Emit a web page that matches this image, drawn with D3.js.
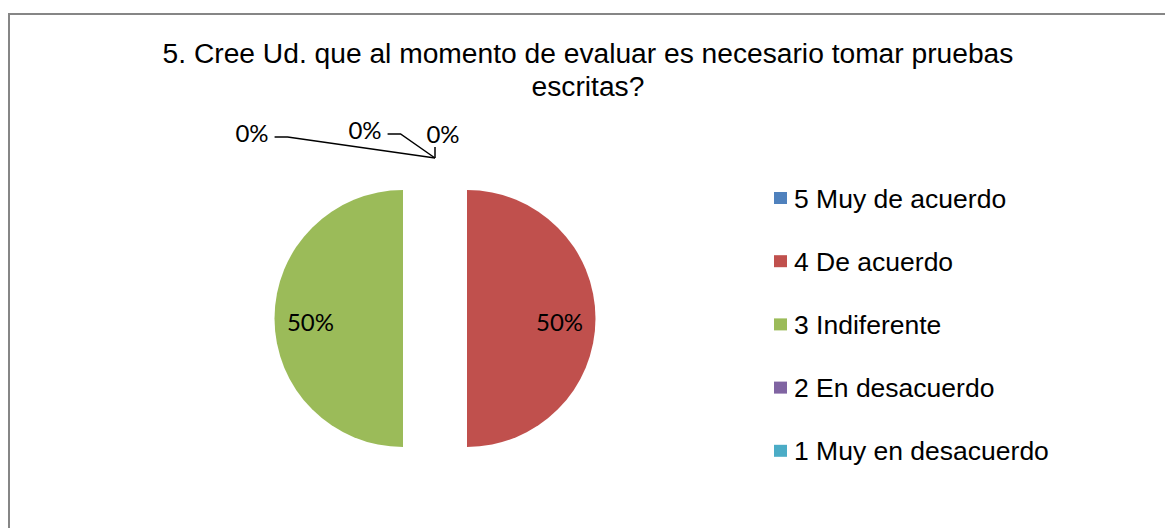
<!DOCTYPE html>
<html><head><meta charset="utf-8">
<script src="https://cdn.jsdelivr.net/npm/d3@7"></script>
<style>body{margin:0;background:#fff;}svg{display:block;}</style>
</head><body>
<svg id="chart" width="1165" height="528"></svg>
<script>
const titleLines = ["5. Cree Ud. que al momento de evaluar es necesario tomar pruebas", "escritas?"];
const categories = ["5 Muy de acuerdo", "4 De acuerdo", "3 Indiferente", "2 En desacuerdo", "1 Muy en desacuerdo"];
const values = [0, 50, 50, 0, 0];
const colors = ["#4F81BD", "#C0504D", "#9BBB59", "#8064A2", "#4BACC6"];

const svg = d3.select("#chart");
const W = 1165, H = 528;
svg.append("rect").attr("x", 0).attr("y", 0).attr("width", W).attr("height", H).attr("fill", "#fff");
svg.append("rect").attr("x", 9).attr("y", 14).attr("width", W + 20).attr("height", H + 20)
  .attr("fill", "none").attr("stroke", "#868686").attr("stroke-width", 2);

// title
svg.append("g").selectAll("text").data(titleLines).join("text")
  .attr("x", 588).attr("y", (d, i) => 63 + i * 33)
  .attr("text-anchor", "middle")
  .attr("font-family", "'Liberation Sans', Arial, sans-serif")
  .attr("font-size", 28.2).attr("fill", "#000").text(d => d);

// pie
const cx = 435, cy = 318.5, r = 128.5, explode = 32;
const total = d3.sum(values);
const pie = d3.pie().sort(null).value(d => d.v);
const arcs = pie(values.map((v, i) => ({v, i, c: categories[i]})));
const arc = d3.arc().innerRadius(0).outerRadius(r);
const mid = a => (a.startAngle + a.endAngle) / 2;
const off = a => [Math.sin(mid(a)) * explode, -Math.cos(mid(a)) * explode];

const g = svg.append("g").attr("transform", `translate(${cx},${cy})`);
g.selectAll("path").data(arcs.filter(a => a.data.v > 0)).join("path")
  .attr("transform", a => `translate(${off(a)})`)
  .attr("d", arc).attr("fill", a => colors[a.data.i]);

const labelFont = "Lato, 'Open Sans', sans-serif";
const pct = v => Math.round(v / total * 100) + "%";

// non-zero labels inside slices
g.selectAll("text.in").data(arcs.filter(a => a.data.v > 0)).join("text")
  .attr("class", "in")
  .attr("x", a => off(a)[0] + Math.sin(mid(a)) * r * 0.72)
  .attr("y", a => off(a)[1] - Math.cos(mid(a)) * r * 0.72 + 12)
  .attr("text-anchor", "middle").attr("font-family", labelFont).attr("font-size", 24)
  .attr("fill", "#000").text(a => pct(a.data.v));

// zero labels with leader lines
const zero = arcs.filter(a => a.data.v === 0);
const zeroLayout = [[-183, -25], [-70, -28], [8, -24]];
const anchorOf = a => [Math.sin(mid(a)) * (r + explode), -Math.cos(mid(a)) * (r + explode)];
zero.forEach((a, k) => {
  const [ax, ay] = anchorOf(a);
  const [dx, dy] = zeroLayout[k];
  const lx = ax + dx, ly = ay + dy;
  const t = g.append("text").attr("x", lx).attr("y", ly + 9)
    .attr("text-anchor", "middle").attr("font-family", labelFont).attr("font-size", 24)
    .attr("fill", "#000").text(pct(a.data.v));
  const bb = t.node().getBBox();
  let pts;
  if (bb.x + bb.width < ax) {
    const sx = bb.x + bb.width + 6, sy = ly + 4;
    pts = [[sx, sy], [sx + 13, sy], [ax, ay]];
  } else {
    pts = [[ax, ay - 11], [ax, ay]];
  }
  g.append("path").attr("d", d3.line()(pts)).attr("fill", "none")
    .attr("stroke", "#000").attr("stroke-width", 1.5);
});

// legend
const leg = svg.append("g").attr("transform", "translate(774,198)");
const rows = leg.selectAll("g").data(categories).join("g")
  .attr("transform", (d, i) => `translate(0,${i * 63.2})`);
rows.append("rect").attr("x", 0).attr("y", -6).attr("width", 13).attr("height", 12)
  .attr("fill", (d, i) => colors[i]);
rows.append("text").attr("x", 20).attr("y", 9.5)
  .attr("font-family", "'Liberation Sans', Arial, sans-serif").attr("font-size", 26.5)
  .attr("fill", "#000").text(d => d);
</script>
</body></html>
